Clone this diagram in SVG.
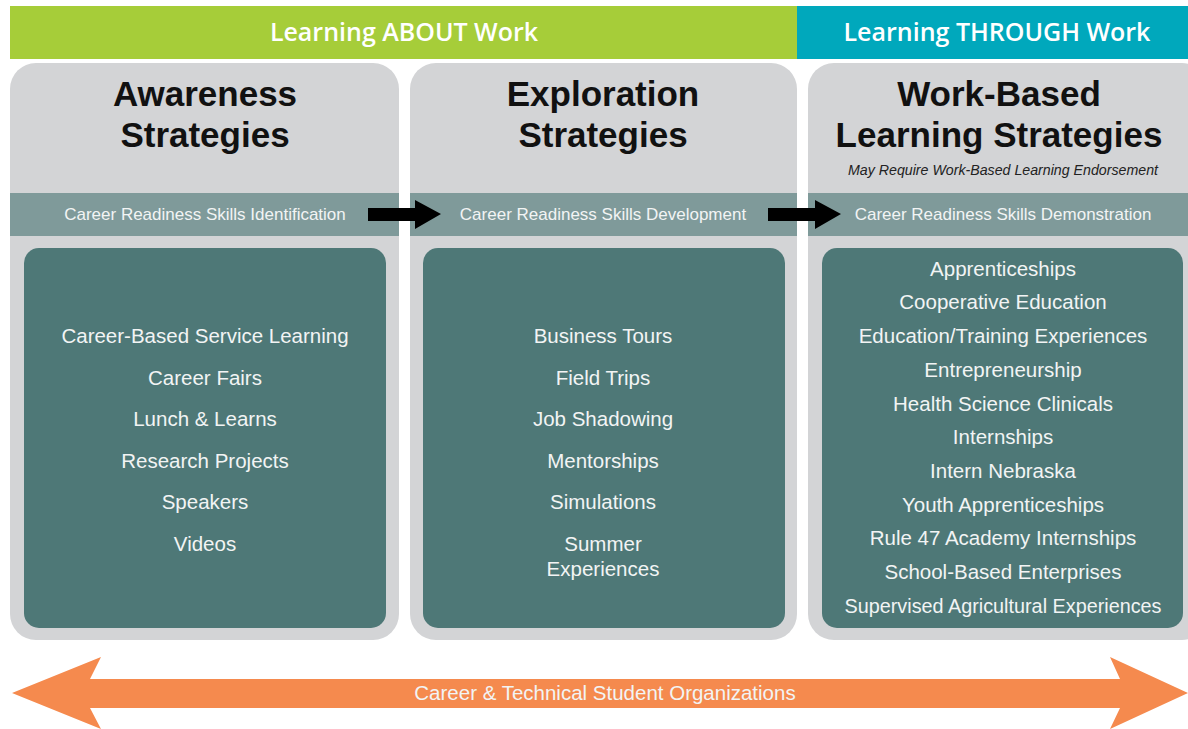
<svg xmlns="http://www.w3.org/2000/svg" width="1188" height="729" viewBox="0 0 1188 729">
<style>
.panel{fill:#d3d4d6}
.band{fill:#7f9a9a}
.inner{fill:#4e7877}
.title{font-family:"Liberation Sans",Arial,sans-serif;font-weight:bold;font-size:35px;fill:#111;text-anchor:middle}
.bandtxt{font-family:"Liberation Sans",Arial,sans-serif;font-size:17px;fill:#f2f4f4;text-anchor:middle}
.item{font-family:"Liberation Sans",Arial,sans-serif;font-size:20.5px;fill:#f2f4f4;text-anchor:middle}
.head{font-family:"Open Sans","Liberation Sans",sans-serif;font-weight:600;font-size:25px;fill:#fff;text-anchor:middle}
.sub{font-family:"Liberation Sans",Arial,sans-serif;font-style:italic;font-size:14px;fill:#222;text-anchor:middle}
</style>
<g id="banner-about">
<rect x="10" y="6" width="787" height="53" fill="#a6cd39"/>
<text class="head" x="404" y="41">Learning ABOUT Work</text>
</g>
<g id="banner-through">
<rect x="797" y="6" width="391" height="53" fill="#00a8bc"/>
<text class="head" x="997" y="41">Learning THROUGH Work</text>
</g>
<g id="awareness">
<rect class="panel" x="10" y="63" width="389" height="577" rx="26"/>
<rect class="band" x="10" y="193" width="389" height="43"/>
<rect class="inner" x="24" y="248" width="362" height="380" rx="15"/>
<text class="title" x="205" y="106">Awareness</text>
<text class="title" x="205" y="147">Strategies</text>
<text class="bandtxt" x="205" y="220">Career Readiness Skills Identification</text>
<text class="item" x="205" y="343">Career-Based Service Learning</text>
<text class="item" x="205" y="385">Career Fairs</text>
<text class="item" x="205" y="426">Lunch &amp; Learns</text>
<text class="item" x="205" y="468">Research Projects</text>
<text class="item" x="205" y="509">Speakers</text>
<text class="item" x="205" y="551">Videos</text>
</g>
<g id="exploration">
<rect class="panel" x="410" y="63" width="387" height="577" rx="26"/>
<rect class="band" x="410" y="193" width="387" height="43"/>
<rect class="inner" x="423" y="248" width="362" height="380" rx="15"/>
<text class="title" x="603" y="106">Exploration</text>
<text class="title" x="603" y="147">Strategies</text>
<text class="bandtxt" x="603" y="220">Career Readiness Skills Development</text>
<text class="item" x="603" y="343">Business Tours</text>
<text class="item" x="603" y="385">Field Trips</text>
<text class="item" x="603" y="426">Job Shadowing</text>
<text class="item" x="603" y="468">Mentorships</text>
<text class="item" x="603" y="509">Simulations</text>
<text class="item" x="603" y="551">Summer</text>
<text class="item" x="603" y="576">Experiences</text>
</g>
<g id="work-based">
<rect class="panel" x="808" y="63" width="400" height="577" rx="26"/>
<rect class="band" x="808" y="193" width="400" height="43"/>
<rect class="inner" x="822" y="248" width="361" height="380" rx="15"/>
<text class="title" x="999" y="106">Work-Based</text>
<text class="title" x="999" y="147">Learning Strategies</text>
<text class="sub" x="1003" y="175" textLength="310" lengthAdjust="spacingAndGlyphs">May Require Work-Based Learning Endorsement</text>
<text class="bandtxt" x="1003" y="220">Career Readiness Skills Demonstration</text>
<text class="item" x="1003" y="276">Apprenticeships</text>
<text class="item" x="1003" y="309">Cooperative Education</text>
<text class="item" x="1003" y="343">Education/Training Experiences</text>
<text class="item" x="1003" y="377">Entrepreneurship</text>
<text class="item" x="1003" y="411">Health Science Clinicals</text>
<text class="item" x="1003" y="444">Internships</text>
<text class="item" x="1003" y="478">Intern Nebraska</text>
<text class="item" x="1003" y="512">Youth Apprenticeships</text>
<text class="item" x="1003" y="545">Rule 47 Academy Internships</text>
<text class="item" x="1003" y="579">School-Based Enterprises</text>
<text class="item" x="1003" y="613" textLength="317" lengthAdjust="spacingAndGlyphs">Supervised Agricultural Experiences</text>
</g>
<g id="connectors">
<polygon points="368,208 415,208 415,200 441,214 415,229 415,221 368,221" fill="#000"/>
<polygon points="768,208 815,208 815,200 841,214 815,229 815,221 768,221" fill="#000"/>
</g>
<g id="ctso">
<polygon points="12,693 101,657 90,679 1120,679 1110,657 1188,693 1110,729 1120,708 90,708 101,729" fill="#f58a4e"/>
<text class="item" x="605" y="700">Career &amp; Technical Student Organizations</text>
</g>
</svg>
